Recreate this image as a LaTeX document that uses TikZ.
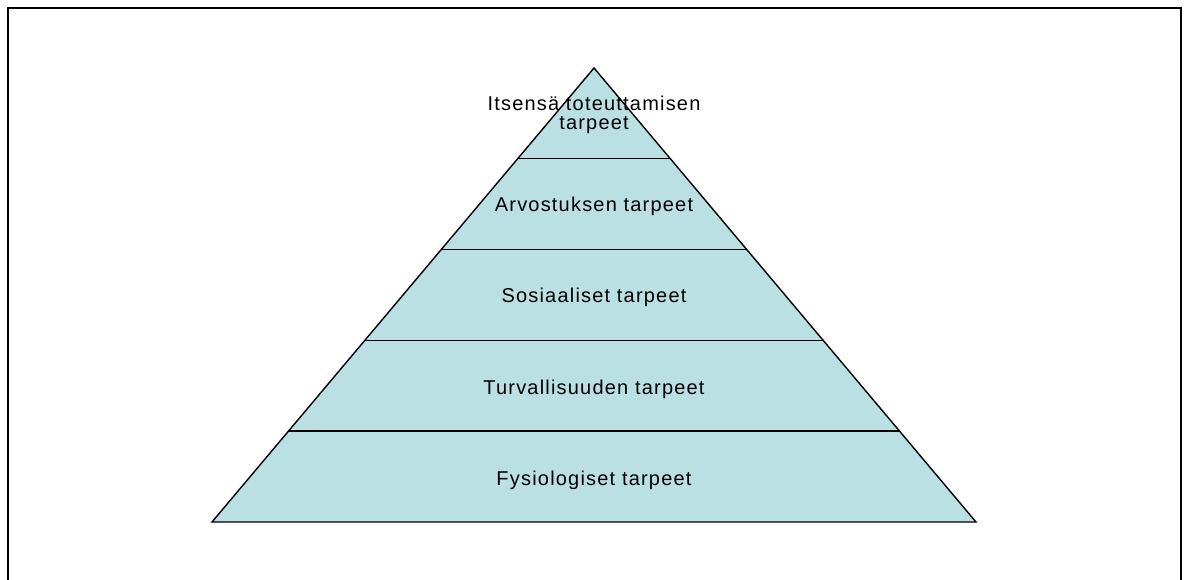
\documentclass[tikz,border=0pt]{standalone}
\usepackage{fontspec}
\newfontfamily\lab[LetterSpace=6]{Liberation Sans}
\usetikzlibrary{calc}
\definecolor{pyrfill}{RGB}{187,224,227}
\tikzset{
  lbl/.style={anchor=base, inner sep=0pt, font=\lab\fontsize{20}{22}\selectfont, text=black},
  frameline/.style={line width=2.7pt, draw=black},
  edge/.style={line width=1.4pt, draw=black}
}
\begin{document}
\begin{tikzpicture}[x=1pt,y=-1pt]
\useasboundingbox (0,0) rectangle (1187,580);
\draw[frameline] (8,580) -- (8,8) -- (1181,8) -- (1181,580);
\coordinate (A) at (594,68);
\coordinate (L) at (212,522);
\coordinate (R) at (976,522);
\path[fill=pyrfill, edge, line join=miter] (A) -- (L) -- (R) -- cycle;
\foreach \k in {1,2,3,4}{
  \draw[edge] ($(A)!\k/5!(L)$) -- ($(A)!\k/5!(R)$);
}
\node[lbl] (t1a) at (594,111) {Itsensä toteuttamisen};
\node[lbl] (t1b) at (594,130) {tarpeet};
\node[lbl] (t2) at (594,212) {Arvostuksen tarpeet};
\node[lbl] (t3) at (594,303) {Sosiaaliset tarpeet};
\node[lbl] (t4) at (594,394) {Turvallisuuden tarpeet};
\node[lbl] (t5) at (594,485) {Fysiologiset tarpeet};
\end{tikzpicture}
\end{document}
